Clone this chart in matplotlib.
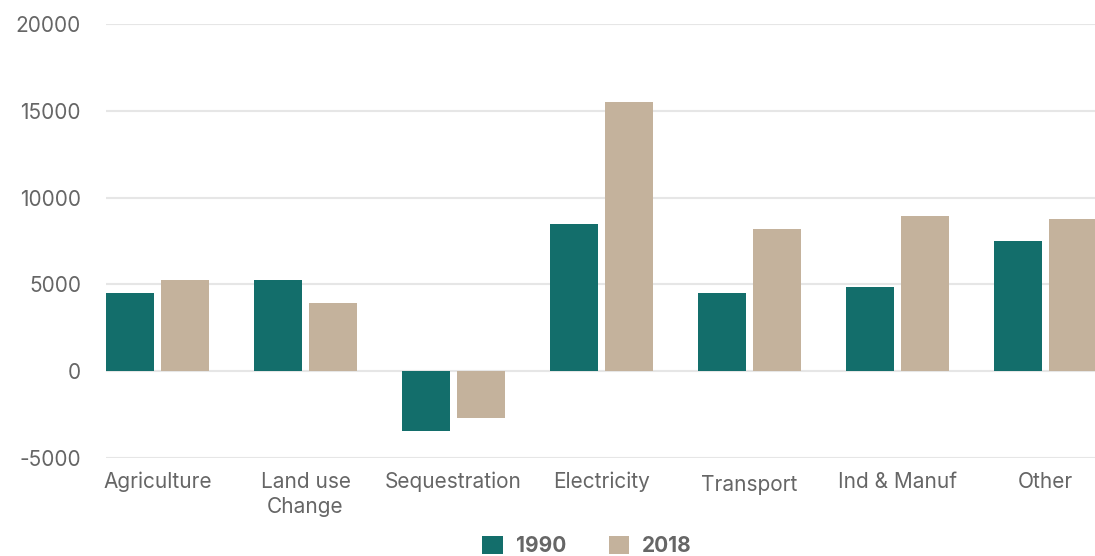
import numpy as np
import matplotlib
matplotlib.use("Agg")
from matplotlib import pyplot as plt
from matplotlib.transforms import ScaledTranslation

# data
categories = ["Agriculture", "Land use\nChange", "Sequestration", "Electricity",
              "Transport", "Ind & Manuf", "Other"]
values_1990 = [4500, 5250, -3450, 8500, 4500, 4850, 7500]
values_2018 = [5250, 3900, -2700, 15500, 8200, 8950, 8750]
series_names = ["1990", "2018"]
y_ticks = [-5000, 0, 5000, 10000, 15000, 20000]

teal = "#136e6b"
beige = "#c4b29c"
text_grey = "#666666"

plt.rcParams['font.family'] = ['Inter', 'DejaVu Sans']

fig = plt.figure(figsize=(10.95, 5.56), dpi=100)
ax = fig.add_axes([106 / 1095, 1 - 458 / 556, 1 - 106 / 1095, (458 - 24) / 556])

x = np.arange(len(categories))
width = 0.324
offset = 0.186
ax.bar(x - offset, values_1990, width, color=teal, label=series_names[0], zorder=3)
ax.bar(x + offset, values_2018, width, color=beige, label=series_names[1], zorder=3)

# axes look
ax.set_xlim(-0.348, 6.334)
ax.set_ylim(-5000, 20000)
ax.set_yticks(y_ticks)
ax.set_yticklabels([str(v) for v in y_ticks])
ax.set_xticks(x)
ax.set_xticklabels(categories, linespacing=1.35)
for side in ["top", "right", "left", "bottom"]:
    ax.spines[side].set_visible(False)
ax.yaxis.grid(True, color="#e6e6e6", linewidth=1.5, zorder=0)
ax.set_axisbelow(True)
ax.tick_params(axis="y", length=0, pad=18, labelsize=15, labelcolor=text_grey)
ax.tick_params(axis="x", length=0, pad=10, labelsize=15, labelcolor=text_grey)

# "Transport" sits a touch lower in the original
for lbl in ax.get_xticklabels():
    if lbl.get_text() == "Transport":
        lbl.set_transform(lbl.get_transform() + ScaledTranslation(0, -2 / 72, fig.dpi_scale_trans))

leg = ax.legend(loc="center", bbox_to_anchor=(587 / 1095, 10 / 556),
                bbox_transform=fig.transFigure, ncol=2, frameon=False,
                handlelength=1.0, handleheight=1.0, handletextpad=0.62,
                columnspacing=2.05, prop={"size": 15, "weight": "bold"})
for t in leg.get_texts():
    t.set_color(text_grey)

fig.savefig("out.png", dpi=100)
